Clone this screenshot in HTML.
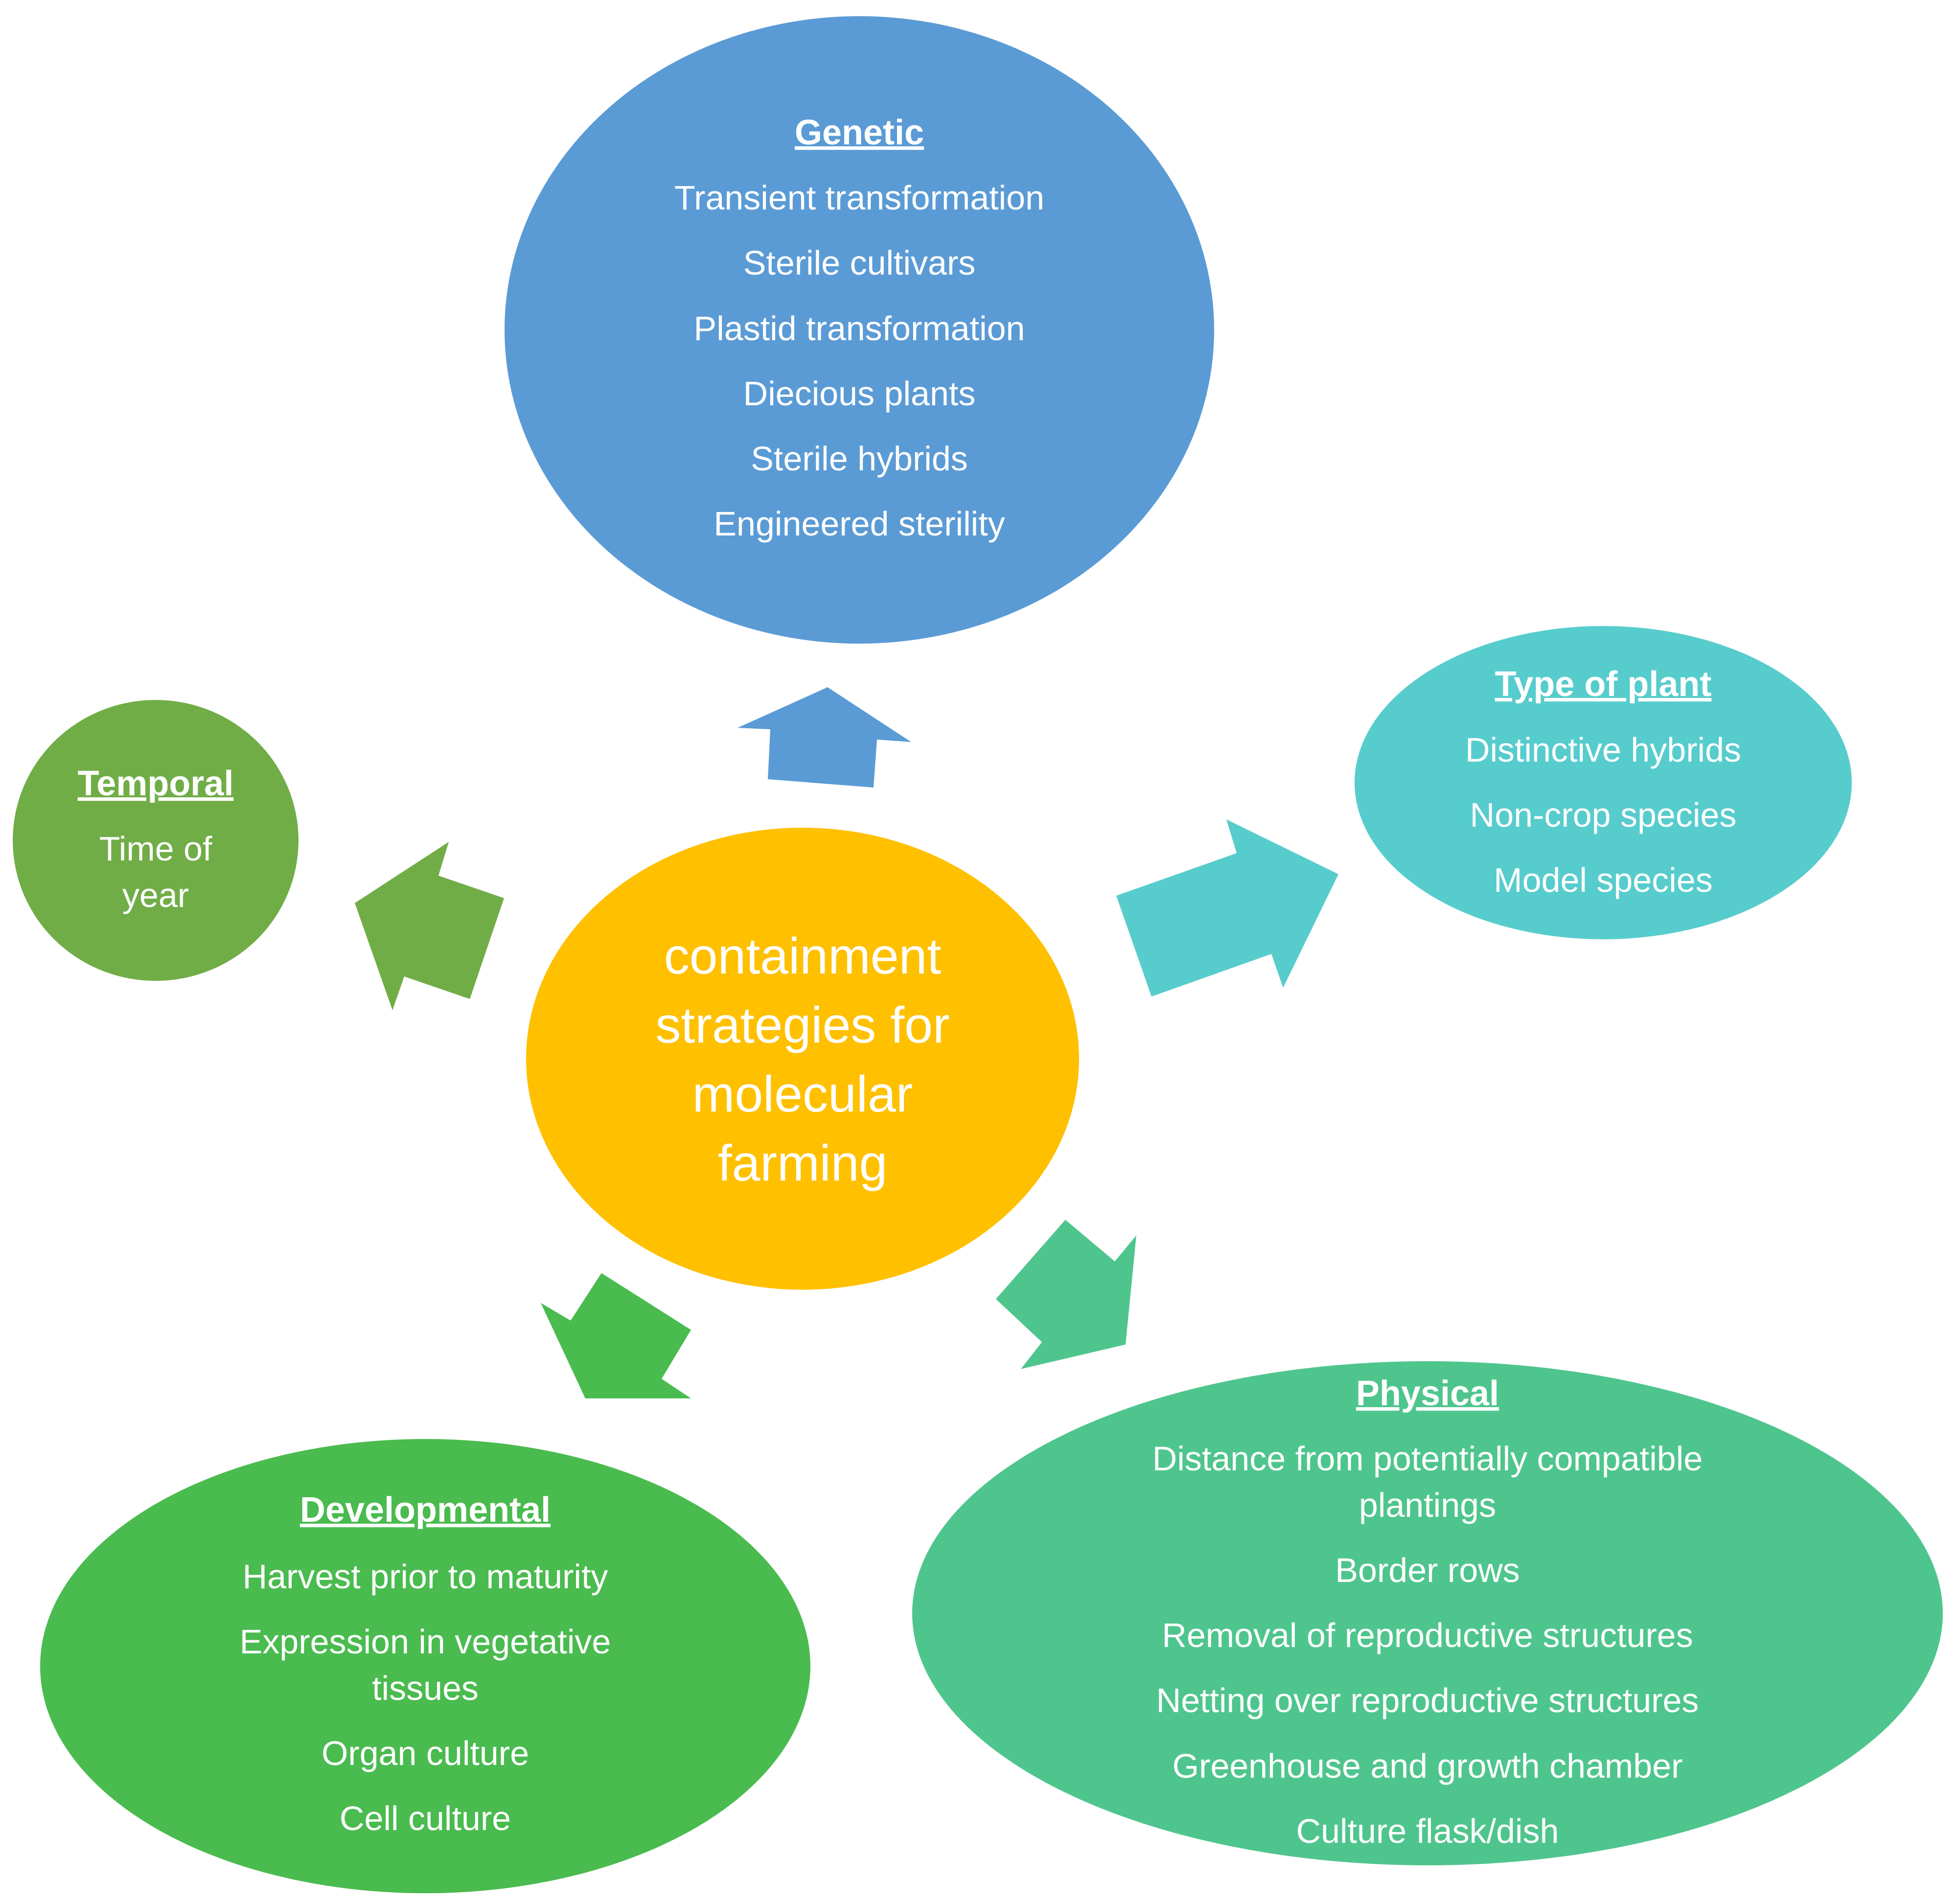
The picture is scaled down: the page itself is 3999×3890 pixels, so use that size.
<!DOCTYPE html>
<html><head><meta charset="utf-8"><style>
html,body{margin:0;padding:0;background:#fff}
svg{display:block}
text{font-family:"Liberation Sans",sans-serif;fill:#fff;text-anchor:middle}
.i{font-size:70px}
.h{font-size:72px;font-weight:bold;text-decoration:underline}
.c{font-size:104px}
</style></head><body>
<svg width="3999" height="3890" viewBox="0 0 3999 3890" xmlns="http://www.w3.org/2000/svg">
<ellipse cx="1756" cy="674" rx="725" ry="641" fill="#5B9BD5"/>
<ellipse cx="3276" cy="1599" rx="508" ry="320" fill="#57CCCD"/>
<ellipse cx="318" cy="1717" rx="292" ry="287" fill="#70AD47"/>
<ellipse cx="1640" cy="2163" rx="565" ry="472" fill="#FFC000"/>
<ellipse cx="869" cy="3404" rx="787" ry="464" fill="#4ABB4F"/>
<ellipse cx="2917" cy="3296" rx="1053" ry="515" fill="#4FC58E"/>
<polygon points="1691,1404 1862,1516 1792,1511 1785,1609 1569,1592 1574,1490 1507,1487" fill="#5B9BD5"/>
<polygon points="917,1720 896,1789 1030,1835 960,2041 826,1995 802,2064 725,1845" fill="#70AD47"/>
<polygon points="2506,1674 2735,1786 2622,2018 2598,1949 2353,2036 2281,1830 2527,1743" fill="#57CCCD"/>
<polygon points="1105,2662 1166,2698 1229,2601 1412,2717 1352,2817 1412,2857 1196,2857" fill="#4ABB4F"/>
<polygon points="2177,2492 2278,2577 2322,2524 2300,2747 2086,2797 2129,2742 2035,2654" fill="#4FC58E"/>
<text class="h" x="1756" y="295">Genetic</text>
<text class="i" x="1756" y="428">Transient transformation</text>
<text class="i" x="1756" y="561">Sterile cultivars</text>
<text class="i" x="1756" y="695">Plastid transformation</text>
<text class="i" x="1756" y="828">Diecious plants</text>
<text class="i" x="1756" y="961">Sterile hybrids</text>
<text class="i" x="1756" y="1094">Engineered sterility</text>
<text class="h" x="3276" y="1422">Type of plant</text>
<text class="i" x="3276" y="1556">Distinctive hybrids</text>
<text class="i" x="3276" y="1689">Non-crop species</text>
<text class="i" x="3276" y="1822">Model species</text>
<text class="h" x="318" y="1625">Temporal</text>
<text class="i" x="318" y="1758">Time of</text>
<text class="i" x="318" y="1853">year</text>
<text class="c" x="1640" y="1989">containment</text>
<text class="c" x="1640" y="2130">strategies for</text>
<text class="c" x="1640" y="2271">molecular</text>
<text class="c" x="1640" y="2412">farming</text>
<text class="h" x="869" y="3109">Developmental</text>
<text class="i" x="869" y="3245">Harvest prior to maturity</text>
<text class="i" x="869" y="3378">Expression in vegetative</text>
<text class="i" x="869" y="3473">tissues</text>
<text class="i" x="869" y="3606">Organ culture</text>
<text class="i" x="869" y="3739">Cell culture</text>
<text class="h" x="2917" y="2871">Physical</text>
<text class="i" x="2917" y="3004">Distance from potentially compatible</text>
<text class="i" x="2917" y="3099">plantings</text>
<text class="i" x="2917" y="3232">Border rows</text>
<text class="i" x="2917" y="3365">Removal of reproductive structures</text>
<text class="i" x="2917" y="3498">Netting over reproductive structures</text>
<text class="i" x="2917" y="3632">Greenhouse and growth chamber</text>
<text class="i" x="2917" y="3765">Culture flask/dish</text>
</svg>
</body></html>
